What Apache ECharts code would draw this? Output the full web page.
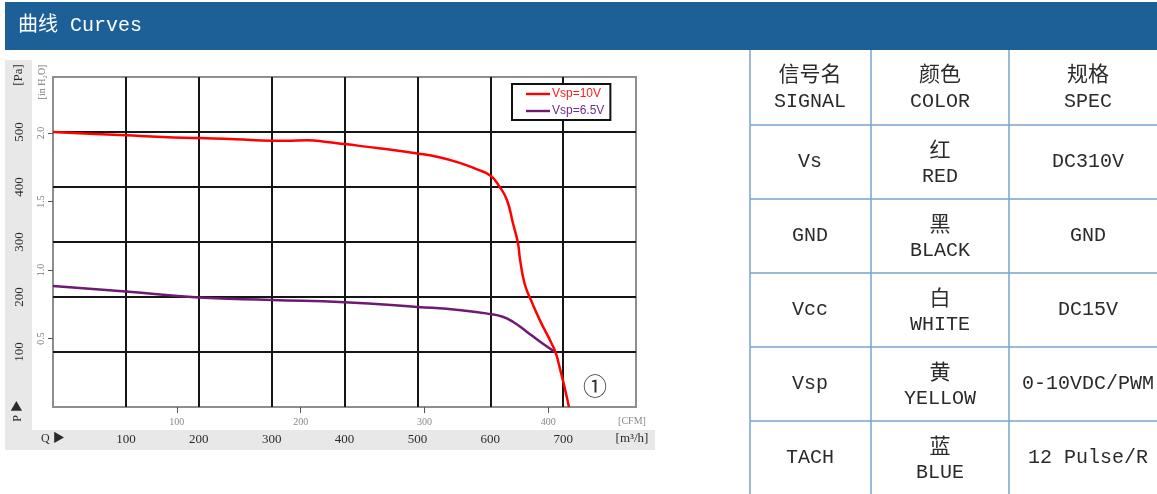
<!DOCTYPE html>
<html><head><meta charset="utf-8">
<script src="https://cdn.jsdelivr.net/npm/echarts@6.0.0/dist/echarts.min.js"></script>
<style>html,body{margin:0;padding:0;background:#fff}#c{width:1157px;height:494px}</style>
</head><body><div id="c"></div>
<script>
// ---- data (flow in m³/h, static pressure in Pa) ----
const flowRed      = [0, 50, 100, 150, 200, 250, 300, 320, 350, 375, 400, 450, 500, 530, 560, 580, 600, 613, 623, 631, 638, 641, 647, 654, 668, 684, 690, 695, 702, 708];
const pressureRed  = [500, 497, 494, 491, 489, 487, 484, 484, 485, 482, 478, 470, 461, 454, 443, 433, 421, 400, 376, 335, 298, 267, 225, 200, 158, 116, 98, 73, 36, 0];
const flowPurple     = [0, 100, 200, 300, 400, 500, 560, 600, 617, 631, 650, 668, 690];
const pressurePurple = [220, 210, 199, 194.5, 190.5, 182, 176, 169, 164, 155, 137, 119, 99];
const seriesNames = ['Vsp=10V', 'Vsp=6.5V'];

// ---- axis tick labels ----
const m3hTicks = [100, 200, 300, 400, 500, 600, 700];
const cfmTicks = [100, 200, 300, 400];
const paTicks = [100, 200, 300, 400, 500];
const inh2oTicks = [0.5, 1.0, 1.5, 2.0];
const M3H_PER_CFM = 1.699;
const PA_PER_INH2O = 249.089;

// ---- table ----
const headCN = ['信号名', '颜色', '规格'];
const headEN = ['SIGNAL', 'COLOR', 'SPEC'];
const signals = ['Vs', 'GND', 'Vcc', 'Vsp', 'TACH'];
const colorsCN = ['红', '黑', '白', '黄', '蓝'];
const colorsEN = ['RED', 'BLACK', 'WHITE', 'YELLOW', 'BLUE'];
const specs = ['DC310V', 'GND', 'DC15V', '0-10VDC/PWM', '12 Pulse/R'];

const zip = (a, b) => a.map((v, i) => [v, b[i]]);

const SERIF = '"Liberation Serif","Noto Sans CJK SC",serif';
const MONO = '"Liberation Mono","Noto Sans CJK SC",monospace';
const TXT = '#2b2b2b';

const graphics = [];
// header
graphics.push({type: 'rect', z: -1, shape: {x: 5, y: 2, width: 1152, height: 48}, style: {fill: '#1d6098'}});
graphics.push({type: 'text', x: 18, y: 26, style: {text: '曲线 Curves', fill: '#fff', font: '20px ' + MONO, verticalAlign: 'middle'}});
// gray strips
graphics.push({type: 'rect', z: -1, shape: {x: 5, y: 60, width: 27, height: 390}, style: {fill: '#e8e8e8'}});
graphics.push({type: 'rect', z: -1, shape: {x: 5, y: 430, width: 650, height: 20}, style: {fill: '#e8e8e8'}});
// axis captions
const rotText = (t, x, y, size, color) => ({type: 'text', x, y, rotation: Math.PI / 2,
  style: {text: t, fill: color, font: size + 'px ' + SERIF, align: 'center', verticalAlign: 'middle'}});
graphics.push(rotText('[Pa]', 19, 75, 13, TXT));
graphics.push(rotText('[in H₂O]', 42, 82, 10, '#777'));
graphics.push(rotText('P ▶', 18, 411, 12, TXT));
graphics.push({type: 'text', x: 41, y: 439, style: {text: 'Q ▶', fill: TXT, font: '12px ' + SERIF, verticalAlign: 'middle'}});
graphics.push({type: 'text', x: 632, y: 421, style: {text: '[CFM]', fill: '#888', font: '10px ' + SERIF, align: 'center', verticalAlign: 'middle'}});
graphics.push({type: 'text', x: 632, y: 439, style: {text: '[m³/h]', fill: TXT, font: '13px ' + SERIF, align: 'center', verticalAlign: 'middle'}});
graphics.push({type: 'text', x: 595, y: 386, style: {text: '①', fill: '#333', font: '24px "Noto Sans CJK SC"', align: 'center', verticalAlign: 'middle'}});

// table grid
const colX = [750, 871, 1009, 1167];
const rowY = [50, 125, 199, 273, 347, 421, 495];
const LINE = '#7aa3cc';
for (let i = 0; i < 3; i++) {
  graphics.push({type: 'line', shape: {x1: colX[i], y1: 50, x2: colX[i], y2: 494}, style: {stroke: LINE, lineWidth: 1.5}});
}
for (let j = 1; j < rowY.length - 1; j++) {
  graphics.push({type: 'line', shape: {x1: 750, y1: rowY[j], x2: 1157, y2: rowY[j]}, style: {stroke: LINE, lineWidth: 1.5}});
}
const cellText = (t, cx, cy, font) => ({type: 'text', x: cx, y: cy,
  style: {text: t, fill: TXT, font: font, align: 'center', verticalAlign: 'middle'}});
const CJKF = '21px "Noto Sans CJK SC"';
const LATF = '20px ' + MONO;
const colC = [810, 940, 1088];
for (let r = 0; r < 6; r++) {
  const cy = (rowY[r] + rowY[r + 1]) / 2;
  if (r === 0) {
    for (let c = 0; c < 3; c++) {
      graphics.push(cellText(headCN[c], colC[c], cy - 14, CJKF));
      graphics.push(cellText(headEN[c], colC[c], cy + 14, LATF));
    }
  } else {
    const k = r - 1;
    graphics.push(cellText(signals[k], colC[0], cy, LATF));
    graphics.push(cellText(colorsCN[k], colC[1], cy - 13, CJKF));
    graphics.push(cellText(colorsEN[k], colC[1], cy + 15, LATF));
    graphics.push(cellText(specs[k], colC[2], cy, LATF));
  }
}

const chart = echarts.init(document.getElementById('c'), null, {renderer: 'canvas'});
const gridLine = {show: true, showMinLine: false, showMaxLine: false, lineStyle: {color: '#151515', width: 2}};
const lineIcon = 'path://M0,0H40V4H0Z';
chart.setOption({
  animation: false,
  backgroundColor: '#fff',
  graphic: graphics,
  grid: {left: 53, top: 77, right: 521, bottom: 87, show: true, borderColor: '#8e8e8e', borderWidth: 2, backgroundColor: '#fff'},
  legend: {
    left: 512, top: 84, orient: 'vertical',
    backgroundColor: '#fff', borderColor: '#111', borderWidth: 2,
    padding: [4, 6, 3, 14], itemWidth: 24, itemHeight: 12, itemGap: 5,
    textStyle: {fontFamily: '"Liberation Sans",Arial,sans-serif', fontSize: 12, padding: [0, 0, 0, -3]},
    data: [
      {name: seriesNames[0], icon: lineIcon, textStyle: {color: '#ff1a1a'}},
      {name: seriesNames[1], icon: lineIcon, textStyle: {color: '#6e2c8c'}}
    ]
  },
  xAxis: [
    {type: 'value', min: 0, max: 800, interval: 100, position: 'bottom',
     axisLine: {show: false}, axisTick: {show: false}, splitLine: gridLine,
     axisLabel: {customValues: m3hTicks, margin: 26, fontSize: 13, color: TXT, fontFamily: SERIF}},
    {type: 'value', min: 0, max: 800 / M3H_PER_CFM, position: 'bottom', offset: 0,
     axisLine: {show: false}, splitLine: {show: false},
     axisTick: {show: true, customValues: cfmTicks, length: 6, lineStyle: {color: '#555', width: 1}},
     axisLabel: {customValues: cfmTicks, margin: 10, fontSize: 10, color: '#888', fontFamily: SERIF}}
  ],
  yAxis: [
    {type: 'value', min: 0, max: 600, interval: 100, position: 'left',
     axisLine: {show: false}, axisTick: {show: false}, splitLine: gridLine,
     axisLabel: {customValues: paTicks, rotate: 90, margin: 27, fontSize: 13, color: TXT, fontFamily: SERIF}},
    {type: 'value', min: 0, max: 600 / PA_PER_INH2O, position: 'left', offset: 0,
     axisLine: {show: false}, splitLine: {show: false},
     axisTick: {show: true, customValues: inh2oTicks, length: 5, lineStyle: {color: '#555', width: 1}},
     axisLabel: {customValues: inh2oTicks, rotate: 90, margin: 7, fontSize: 10, color: '#777', fontFamily: SERIF,
                 formatter: v => Number(v).toFixed(1)}}
  ],
  series: [
    {name: seriesNames[0], type: 'line', xAxisIndex: 0, yAxisIndex: 0, data: zip(flowRed, pressureRed),
     symbol: 'none', smooth: 0.5, z: 5, lineStyle: {color: '#ff0000', width: 2.5}, itemStyle: {color: '#ff0000'}},
    {name: seriesNames[1], type: 'line', xAxisIndex: 0, yAxisIndex: 0, data: zip(flowPurple, pressurePurple),
     symbol: 'none', smooth: 0.5, z: 4, lineStyle: {color: '#6d1a72', width: 2.5}, itemStyle: {color: '#6d1a72'}}
  ]
});
</script></body></html>
